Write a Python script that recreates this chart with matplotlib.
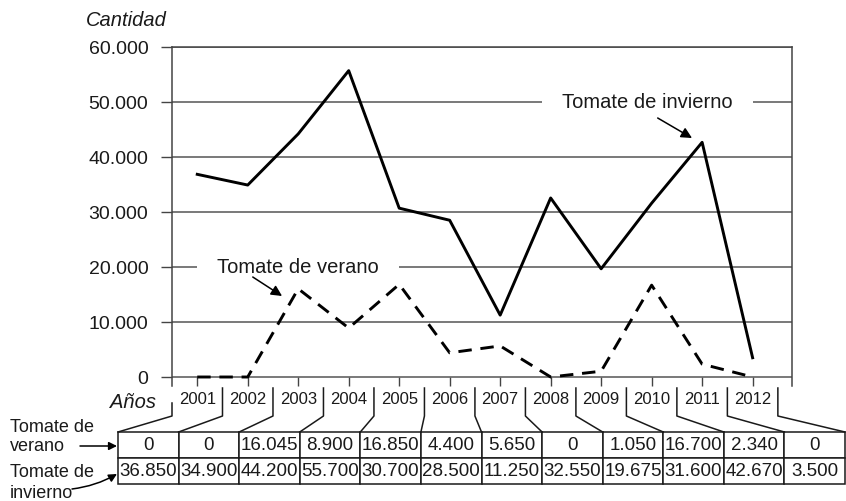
import numpy as np
import matplotlib.pyplot as plt
from matplotlib.ticker import FuncFormatter

plt.rcParams['font.family'] = ['Liberation Sans', 'DejaVu Sans']

years    = [2001, 2002, 2003, 2004, 2005, 2006, 2007, 2008, 2009, 2010, 2011, 2012]
verano   = [0, 0, 16045, 8900, 16850, 4400, 5650, 0, 1050, 16700, 2340, 0]
invierno = [36850, 34900, 44200, 55700, 30700, 28500, 11250, 32550, 19675, 31600, 42670, 3500]
yticks   = [0, 10000, 20000, 30000, 40000, 50000, 60000]


def miles(v):
    # thousands with a dot, spanish style
    return f'{int(v):,}'.replace(',', '.')


verano_txt   = [miles(v) for v in verano]
invierno_txt = [miles(v) for v in invierno]

W, H = 846, 501
AXL, AXR, AXT, AXB = 172, 792, 47, 386   # axes box in pixels
XMIN, XMAX = 2000.5, 2012.78
YMIN, YMAX = -1636, 60000
INK = '#1a1a1a'


def px2ax(px, py):
    return (px - AXL) / (AXR - AXL), (AXB - py) / (AXB - AXT)


def px2fig(px, py):
    return px / W, 1 - py / H


#(1) Figure and axes:
fig = plt.figure(figsize=(W / 100, H / 100), dpi=100)
ax = fig.add_axes([AXL / W, 1 - AXB / H, (AXR - AXL) / W, (AXB - AXT) / H])
ax.set_xlim(XMIN, XMAX)
ax.set_ylim(YMIN, YMAX)

ax.plot(years, invierno, color='black', lw=2.1, zorder=4)
ax.plot(years, verano, color='black', lw=2.1, dashes=(4.6, 3.0), zorder=4)

ax.set_yticks(yticks)
ax.yaxis.set_major_formatter(FuncFormatter(lambda v, p: miles(v)))
ax.yaxis.grid(True, color='#555555', lw=1.1)
ax.set_axisbelow(True)
ax.set_xticks(years)
ax.tick_params(axis='y', length=8, width=1, color='#444444', pad=9, labelsize=14, labelcolor=INK)
ax.tick_params(axis='x', direction='in', length=6.5, width=1, color='#444444', pad=4, labelsize=12, labelcolor=INK)
ax.spines['bottom'].set_visible(False)
for s in ['left', 'right', 'top']:
    ax.spines[s].set_color('#444444')
    ax.spines[s].set_linewidth(1.1)

#(2) Line labels:
box = dict(boxstyle='square,pad=1.0', fc='white', ec='none')
ax.text(2009.92, 50000, 'Tomate de invierno', ha='center', va='center', fontsize=14.5, color=INK, bbox=box, zorder=3)
ax.text(2003.0, 20000, 'Tomate de verano', ha='center', va='center', fontsize=14.5, color=INK, bbox=box, zorder=3)
arrow = dict(arrowstyle='-|>', color='black', lw=1.1, mutation_scale=16, shrinkA=0, shrinkB=0)
ax.annotate('', xy=(2010.80, 43450), xytext=(2010.12, 47090), arrowprops=arrow, zorder=5)
ax.annotate('', xy=(2002.68, 14727), xytext=(2002.10, 18180), arrowprops=arrow, zorder=5)

fig.text(*px2fig(86, 21), 'Cantidad', style='italic', fontsize=14.5, color=INK, va='center')
fig.text(*px2fig(110, 402), 'Años', style='italic', fontsize=14.5, color=INK, va='center')

#(3) Data table under the axis:
tx0, ty0 = px2ax(118, 484)
tw = (845 - 118) / (AXR - AXL)
th = 52 / (AXB - AXT)
tab = ax.table(cellText=[verano_txt, invierno_txt], cellLoc='center', bbox=[tx0, ty0, tw, th])
tab.auto_set_font_size(False)
tab.set_fontsize(13.5)
for cell in tab.get_celld().values():
    cell.set_linewidth(1.1)
    cell.set_edgecolor(INK)
    cell.get_text().set_color(INK)

# separators from the year labels down to the table columns
bounds = np.arange(len(years) + 1) + years[0] - 0.5
ytab = ty0 + th
yknee = px2ax(0, 416)[1]
for k, xb in enumerate(bounds):
    xa = (xb - XMIN) / (XMAX - XMIN)
    xc = tx0 + tw * k / len(years)
    ytop = px2ax(0, 403 if k == 0 else 388)[1]
    ax.plot([xa, xa, xc], [ytop, yknee, ytab], transform=ax.transAxes, clip_on=False, color=INK, lw=1.1)

# row names with arrows
for name, base in [('Tomate de', 432), ('verano', 451), ('Tomate de', 477), ('invierno', 498)]:
    fig.text(*px2fig(10, base), name, fontsize=13, color=INK, va='baseline')
small = dict(arrowstyle='-|>', color='black', lw=1.1, mutation_scale=12, shrinkA=0, shrinkB=0)
ax.annotate('', xy=px2fig(117, 446), xytext=px2fig(80, 446), xycoords='figure fraction', arrowprops=small)
ax.annotate('', xy=px2fig(117, 474), xytext=px2fig(72, 489), xycoords='figure fraction',
            arrowprops=dict(small, connectionstyle='arc3,rad=0.1'))

fig.savefig('out.png', dpi=100)
